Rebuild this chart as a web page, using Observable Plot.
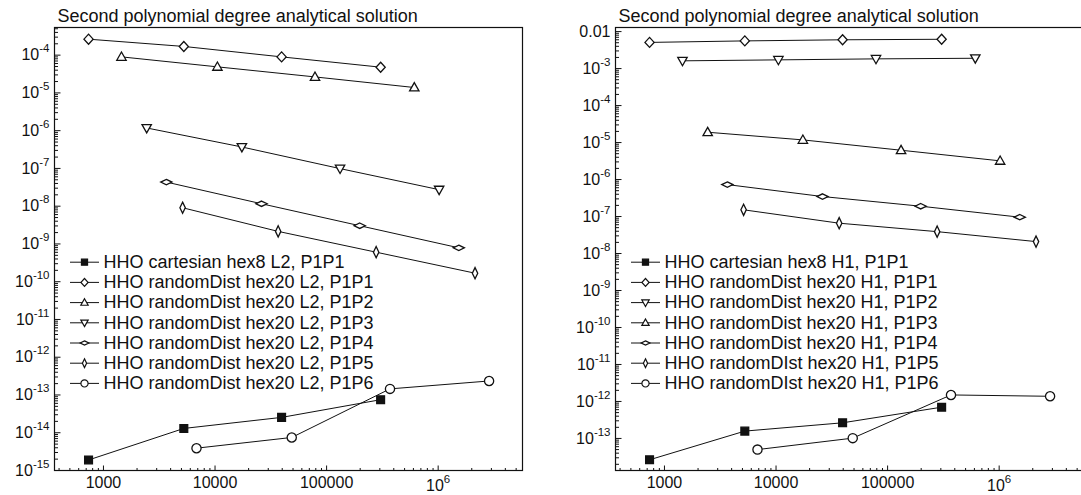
<!DOCTYPE html>
<html>
<head>
<meta charset="utf-8">
<script src="https://cdn.jsdelivr.net/npm/d3@7"></script>
<script src="https://cdn.jsdelivr.net/npm/@observablehq/plot@0.6"></script>
<style>
  html, body { margin: 0; padding: 0; background: #fff; overflow: hidden; }
  #wrap { display: flex; flex-wrap: nowrap; width: 1081px; height: 495px; overflow: hidden; }
  #wrap svg { flex: none; display: block; }
</style>
</head>
<body>
<div id="wrap"></div>
<script>
// ---------------- data ----------------
const chartTitle = "Second polynomial degree analytical solution";

// number of unknowns (x) per series
const xCartesianP1P1 = [735, 5250, 39500, 305000];
const xRandomP1P1 = [735, 5250, 39500, 305000];
const xRandomP1P2 = [1450, 10500, 78700, 611000];
const xRandomP1P3 = [2440, 17400, 132000, 1020000];
const xRandomP1P4 = [3660, 26100, 198000, 1530000];
const xRandomP1P5 = [5120, 36800, 278000, 2140000];
const xRandomP1P6 = [6820, 48700, 370000, 2860000];

// L2 errors (left panel)
const l2CartesianP1P1 = [1.9e-15, 1.3e-14, 2.55e-14, 7.5e-14];
const l2RandomP1P1 = [2.65e-4, 1.7e-4, 9.0e-5, 4.8e-5];
const l2RandomP1P2 = [9.0e-5, 4.9e-5, 2.65e-5, 1.39e-5];
const l2RandomP1P3 = [1.18e-6, 3.7e-7, 9.9e-8, 2.74e-8];
const l2RandomP1P4 = [4.35e-8, 1.16e-8, 3.04e-9, 7.9e-10];
const l2RandomP1P5 = [9.1e-9, 2.15e-9, 6.05e-10, 1.68e-10];
const l2RandomP1P6 = [3.9e-15, 7.5e-15, 1.45e-13, 2.35e-13];

// H1 errors (right panel)
const h1CartesianP1P1 = [2.65e-14, 1.58e-13, 2.65e-13, 7.0e-13];
const h1RandomP1P1 = [5.1e-3, 5.6e-3, 6.0e-3, 6.2e-3];
const h1RandomP1P2 = [1.62e-3, 1.72e-3, 1.83e-3, 1.9e-3];
const h1RandomP1P3 = [1.9e-5, 1.18e-5, 6.2e-6, 3.2e-6];
const h1RandomP1P4 = [7.3e-7, 3.47e-7, 1.9e-7, 9.6e-8];
const h1RandomP1P5 = [1.52e-7, 6.6e-8, 3.9e-8, 2.1e-8];
const h1RandomP1P6 = [5.0e-14, 1.02e-13, 1.5e-12, 1.38e-12];

const l2Labels = [
  "HHO cartesian hex8 L2, P1P1",
  "HHO randomDist hex20 L2, P1P1",
  "HHO randomDist hex20 L2, P1P2",
  "HHO randomDist hex20 L2, P1P3",
  "HHO randomDist hex20 L2, P1P4",
  "HHO randomDist hex20 L2, P1P5",
  "HHO randomDist hex20 L2, P1P6"
];
const h1Labels = [
  "HHO cartesian hex8 H1, P1P1",
  "HHO randomDist hex20 H1, P1P1",
  "HHO randomDist hex20 H1, P1P2",
  "HHO randomDist hex20 H1, P1P3",
  "HHO randomDist hex20 H1, P1P4",
  "HHO randomDIst hex20 H1, P1P5",
  "HHO randomDIst hex20 H1, P1P6"
];

// ticks
const xTicks = [1000, 10000, 100000, 1000000];
const xTickLabels = ["1000", "10000", "100000", "10^6"];
const leftYTicks = [1e-15, 1e-14, 1e-13, 1e-12, 1e-11, 1e-10, 1e-9, 1e-8, 1e-7, 1e-6, 1e-5, 1e-4];
const leftYTickLabels = ["10^-15", "10^-14", "10^-13", "10^-12", "10^-11", "10^-10", "10^-9", "10^-8", "10^-7", "10^-6", "10^-5", "10^-4"];
const rightYTicks = [1e-13, 1e-12, 1e-11, 1e-10, 1e-9, 1e-8, 1e-7, 1e-6, 1e-5, 1e-4, 1e-3, 1e-2];
const rightYTickLabels = ["10^-13", "10^-12", "10^-11", "10^-10", "10^-9", "10^-8", "10^-7", "10^-6", "10^-5", "10^-4", "10^-3", "0.01"];

// ---------------- styles ----------------
const FONT = "'Liberation Sans', Arial, Helvetica, sans-serif";
const xDomain = [364, 5.7e6];
const leftYDomain = [1e-15, 5.4e-4];
const rightYDomain = [1.36e-14, 1.29e-2];

function poly(pts) {
  return { draw(ctx) { ctx.moveTo(pts[0][0], pts[0][1]); for (const p of pts.slice(1)) ctx.lineTo(p[0], p[1]); ctx.closePath(); } };
}
function shapes(s) {
  return {
    square: poly([[-3.9*s,-3.9*s],[3.9*s,-3.9*s],[3.9*s,3.9*s],[-3.9*s,3.9*s]]),
    diamond: poly([[0,-5*s],[4.6*s,0],[0,5*s],[-4.6*s,0]]),
    triUp: poly([[0,-4.9*s],[4.7*s,3.4*s],[-4.7*s,3.4*s]]),
    triDown: poly([[0,4.9*s],[4.7*s,-3.4*s],[-4.7*s,-3.4*s]]),
    wide: poly([[0,-2.7*s],[5.6*s,0],[0,2.7*s],[-5.6*s,0]]),
    tall: poly([[0,-5.6*s],[2.7*s,0],[0,5.6*s],[-2.7*s,0]]),
    circle: { draw(ctx) { const r = 4.6*s; ctx.moveTo(r, 0); ctx.arc(0, 0, r, 0, 2*Math.PI); } }
  };
}
const big = shapes(1), small = shapes(0.78);
const lineSym = { draw(ctx) { ctx.moveTo(-14.5, 0); ctx.lineTo(14.5, 0); } };

function minorTicks(lo, hi) {
  const out = [];
  for (let e = Math.floor(Math.log10(lo)); e <= Math.ceil(Math.log10(hi)); e++)
    for (let k = 2; k <= 9; k++) { const v = k * Math.pow(10, e); if (v >= lo && v <= hi) out.push(v); }
  return out;
}

function makePanel({width, marginLeft, marginRight, yDomain, yTicks, yLabels, xs, ys, symbolKeys, labels}) {
  const height = 495, marginTop = 27, marginBottom = 25;
  const fw = width - marginLeft - marginRight;
  const fh = height - marginTop - marginBottom;
  const series = xs.map((xArr, i) => xArr.map((x, j) => ({series: labels[i], x, y: ys[i][j]})));
  const allRows = series.flat();
  // inward ticks: axes anchored on the opposite side and shifted onto the frame edge
  const inX = (ticks, size) => Plot.axisX({anchor: "top", dy: fh, ticks, tickSize: size, tickFormat: () => "", label: null, stroke: "#111"});
  const inY = (ticks, size) => Plot.axisY({anchor: "right", dx: -fw, ticks, tickSize: size, tickFormat: () => "", label: null, stroke: "#111"});
  const marks = [
    Plot.frame({stroke: "#111", strokeWidth: 1.2}),
    inX(minorTicks(xDomain[0], xDomain[1]), 3),
    inY(minorTicks(yDomain[0], yDomain[1]), 3),
    inX(xTicks, 5.5),
    inY(yTicks, 5.5),
    Plot.axisX({anchor: "bottom", ticks: xTicks, tickSize: 0, tickPadding: 6, fontSize: 16, fill: "#111", label: null,
      tickFormat: d => xTickLabels[xTicks.indexOf(d)]}),
    Plot.axisY({anchor: "left", ticks: yTicks, tickSize: 0, tickPadding: 5, fontSize: 16, fill: "#111", label: null,
      tickFormat: d => yLabels[yTicks.indexOf(d)]}),
    Plot.line(allRows, {x: "x", y: "y", z: "series", stroke: "#111", strokeWidth: 1})
  ];
  series.forEach((rows, i) => {
    const key = symbolKeys[i];
    marks.push(Plot.dot(rows, {x: "x", y: "y", symbol: big[key], stroke: "#111", strokeWidth: 1.3,
      fill: key === "square" ? "#111" : "white"}));
  });
  // legend
  labels.forEach((lab, i) => {
    const dy = 234.7 + i * 20.2;
    const key = symbolKeys[i];
    marks.push(Plot.dot([lab], {frameAnchor: "top-left", dx: 30, dy, symbol: lineSym, stroke: "#111", fill: "none", strokeWidth: 1}));
    marks.push(Plot.dot([lab], {frameAnchor: "top-left", dx: 30, dy, symbol: small[key], stroke: "#111", strokeWidth: 1.2,
      fill: key === "square" ? "#111" : "white"}));
    marks.push(Plot.text([lab], {frameAnchor: "top-left", dx: 49, dy, text: d => d, textAnchor: "start",
      lineAnchor: "middle", fontSize: 18, fill: "#111"}));
  });
  // title
  marks.push(Plot.text([chartTitle], {frameAnchor: "top-left", dx: 3, dy: -6, text: d => d, textAnchor: "start",
    lineAnchor: "bottom", fontSize: 18, fill: "#111"}));

  const svg = Plot.plot({
    width, height,
    marginLeft, marginRight, marginTop, marginBottom,
    style: {fontFamily: FONT, fontSize: "16px", color: "#111", background: "white", overflow: "visible"},
    x: {type: "log", domain: xDomain, label: null},
    y: {type: "log", domain: yDomain, label: null},
    marks
  });
  // superscript exponents in tick labels
  d3.select(svg).selectAll("text").each(function () {
    const s = this.textContent;
    const m = s.match(/^(10)\^(.+)$/);
    if (!m) return;
    const g = this.closest("g[aria-label]");
    const isX = g && (g.getAttribute("aria-label") || "").startsWith("x");
    this.textContent = m[1];
    if (isX) this.setAttribute("y", "0.92em");
    d3.select(this).append("tspan").attr("dy", "-8px").attr("font-size", "11.5px").text(m[2]);
  });
  return svg;
}

const wrap = document.getElementById("wrap");
wrap.appendChild(makePanel({
  width: 540, marginLeft: 54, marginRight: 18,
  yDomain: leftYDomain, yTicks: leftYTicks, yLabels: leftYTickLabels,
  xs: [xCartesianP1P1, xRandomP1P1, xRandomP1P2, xRandomP1P3, xRandomP1P4, xRandomP1P5, xRandomP1P6],
  ys: [l2CartesianP1P1, l2RandomP1P1, l2RandomP1P2, l2RandomP1P3, l2RandomP1P4, l2RandomP1P5, l2RandomP1P6],
  symbolKeys: ["square", "diamond", "triUp", "triDown", "wide", "tall", "circle"],
  labels: l2Labels
}));
wrap.appendChild(makePanel({
  width: 546, marginLeft: 75, marginRight: 3,
  yDomain: rightYDomain, yTicks: rightYTicks, yLabels: rightYTickLabels,
  xs: [xCartesianP1P1, xRandomP1P1, xRandomP1P2, xRandomP1P3, xRandomP1P4, xRandomP1P5, xRandomP1P6],
  ys: [h1CartesianP1P1, h1RandomP1P1, h1RandomP1P2, h1RandomP1P3, h1RandomP1P4, h1RandomP1P5, h1RandomP1P6],
  symbolKeys: ["square", "diamond", "triDown", "triUp", "wide", "tall", "circle"],
  labels: h1Labels
}));
</script>
</body>
</html>
